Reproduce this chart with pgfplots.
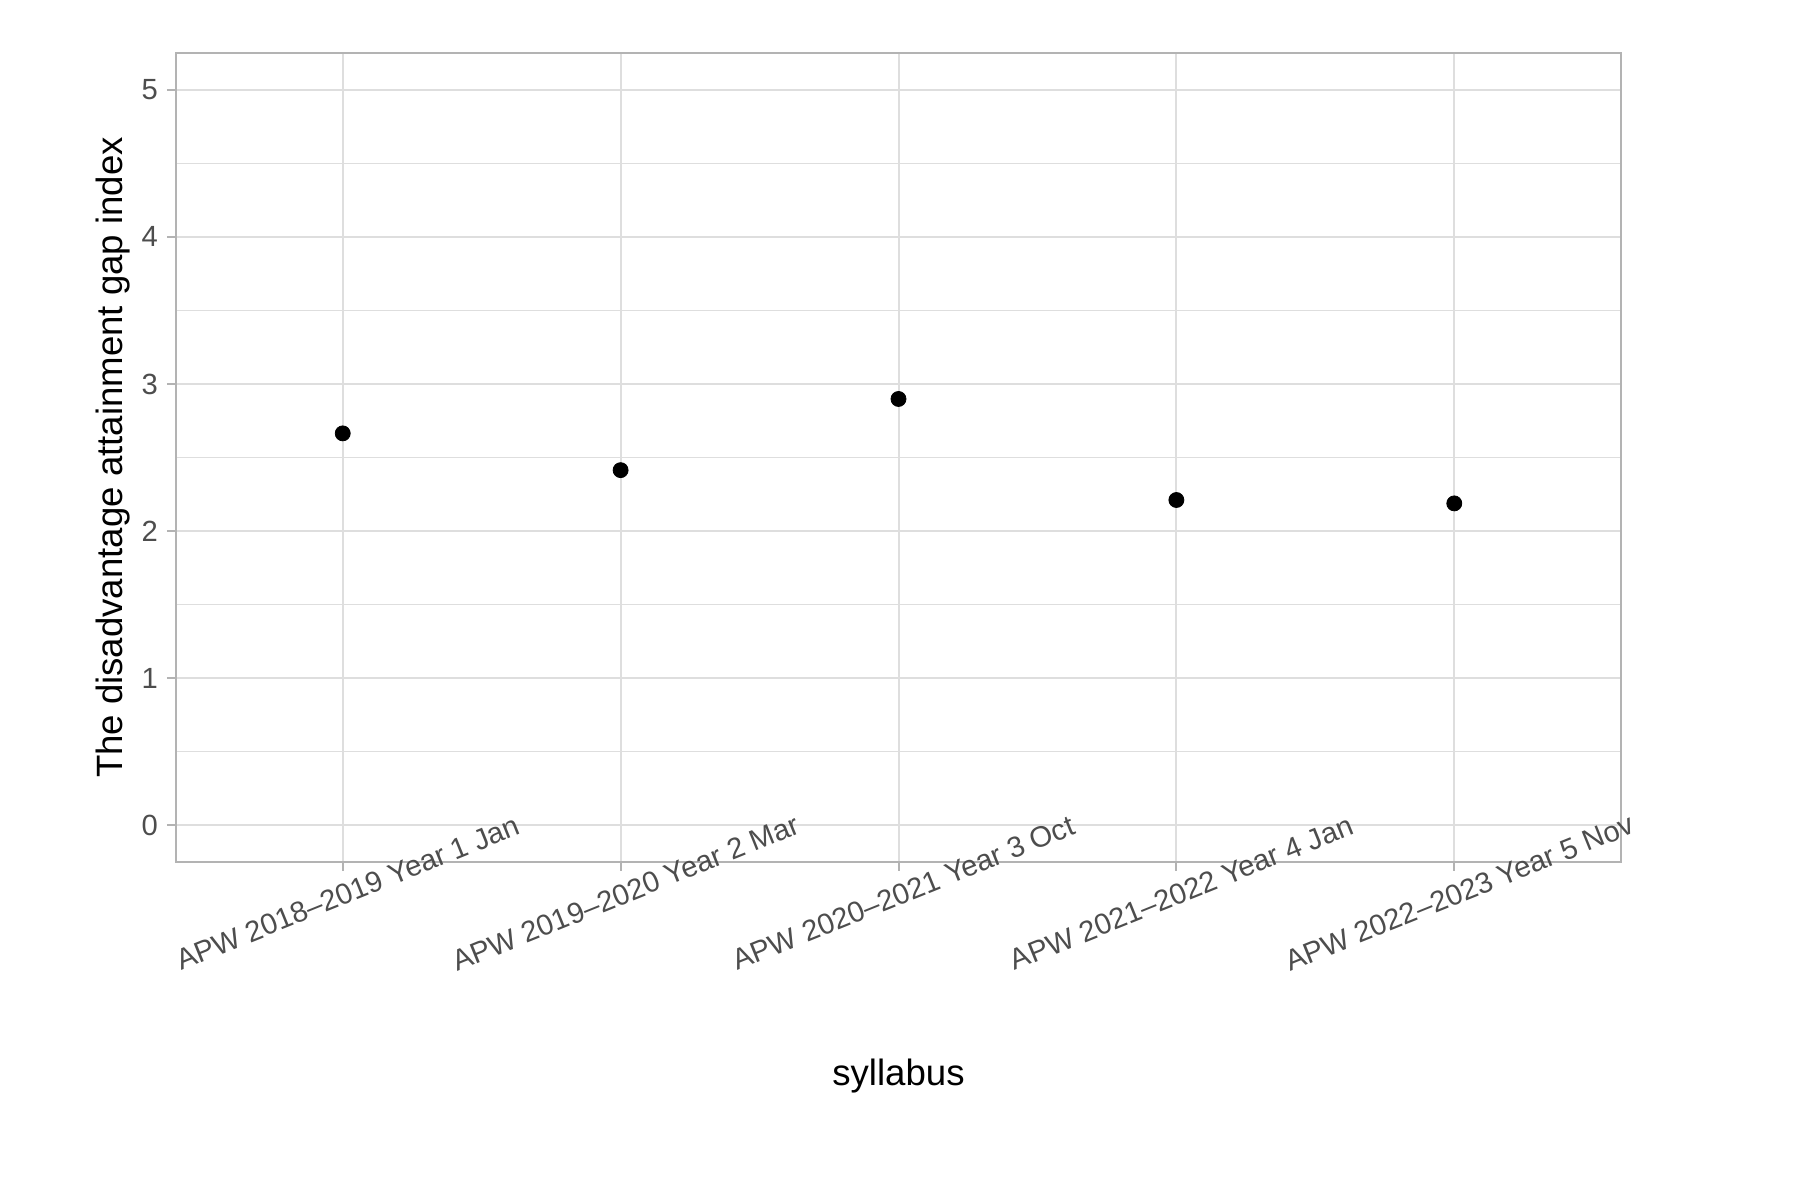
\documentclass[border=0pt]{standalone}
\usepackage{fontspec}
\setmainfont{Liberation Sans}
\usepackage{pgfplots}
\pgfplotsset{compat=1.18}
\definecolor{grid}{RGB}{222,222,222}
\definecolor{border}{RGB}{179,179,179}
\definecolor{ticktext}{RGB}{77,77,77}
\begin{document}
\begin{tikzpicture}
\useasboundingbox (-88pt,-160pt) rectangle (814pt,431pt);
\begin{axis}[
  at={(0,0)}, anchor=south west,
  scale only axis, width=722.5pt, height=404.5pt,
  xmin=0.4, xmax=5.6, ymin=-0.25, ymax=5.25,
  xtick={1,2,3,4,5},
  xticklabels={APW 2018–2019 Year 1 Jan, APW 2019–2020 Year 2 Mar, APW 2020–2021 Year 3 Oct, APW 2021–2022 Year 4 Jan, APW 2022–2023 Year 5 Nov},
  ytick={0,1,2,3,4,5},
  minor ytick={0.5,1.5,2.5,3.5,4.5},
  xmajorgrids, ymajorgrids, yminorgrids,
  major grid style={color=grid, line width=1pt},
  minor grid style={color=grid, line width=0.55pt},
  axis line style={color=border, line width=1.3pt},
  tick align=outside, major tick length=4.5pt, minor tick length=0pt,
  major tick style={color=border, line width=1pt},
  tick pos=left,
  /pgf/number format/assume math mode=true,
  ticklabel style={font=\fontsize{14.6}{17}\selectfont, text=ticktext},
  xticklabel style={rotate=22, anchor=center, yshift=-11.1pt, xshift=-1.7pt},
  yticklabel style={xshift=-1pt},
  label style={font=\fontsize{18.3}{22}\selectfont, text=black},
  xlabel={syllabus},
  ylabel={The disadvantage attainment gap index},
  xlabel style={at={(axis description cs:0.5,-0.2645)}, anchor=center},
  ylabel style={at={(axis description cs:-0.0436,0.5)}, anchor=center},
  clip=false,
]
\addplot[only marks, mark=*, mark size=3.75pt, color=black] coordinates {
  (1,2.664) (2,2.414) (3,2.898) (4,2.211) (5,2.188)
};
\end{axis}
\end{tikzpicture}
\end{document}
